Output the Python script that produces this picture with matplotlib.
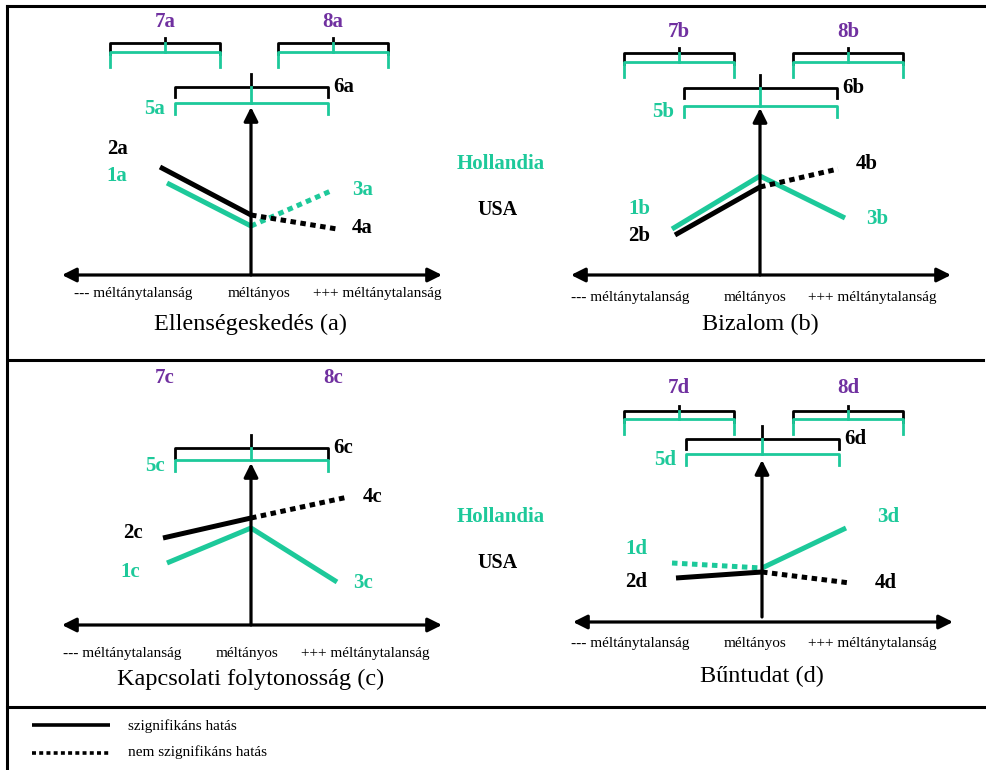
import matplotlib
matplotlib.use('Agg')
import matplotlib.pyplot as plt

plt.rcParams['font.family'] = ['Liberation Serif', 'DejaVu Serif']

GREEN = '#1dc99a'
PURPLE = '#7030a0'
BLACK = '#000000'

# ---- data (heights above the horizontal axis) ----
panels = ['a', 'b', 'c', 'd']
titles = ['Ellenségeskedés (a)', 'Bizalom (b)',
          'Kapcsolati folytonosság (c)', 'Bűntudat (d)']
tick_labels = ['--- méltánytalanság', 'méltányos', '+++ méltánytalanság']
countries = ['Hollandia', 'USA']

# Hollandia (green)
nl_left = [92, 46, 62, 59]
nl_mid = [49, 99, 97, 54]
nl_right = [85, 57, 43, 94]
nl_x_left = [-84, -88, -84, -90]
nl_x_right = [82, 85, 86, 84]
nl_left_sig = [True, True, True, False]
nl_right_sig = [False, True, True, True]

# USA (black)
us_left = [108, 40, 87, 44]
us_mid = [60, 88, 107, 50]
us_right = [46, 106, 128, 39]
us_x_left = [-91, -85, -88, -86]
us_x_right = [86, 78, 97, 88]
us_left_sig = [True, True, True, True]
us_right_sig = [False, False, False, False]

# ---- layout (pixels) ----
origins = [(251, 275), (760, 275), (251, 625), (762, 622)]
vaxis_top = [168, 167, 162, 162]
vaxis_bottom = [0, 0, 0, 5]
inner_black_y = [188, 187, 177, 183]
inner_green_y = [172, 169, 165, 168]
outer_black_y = [232, 222, None, 211]
outer_green_y = [223, 213, None, 203]
outer_centres = [(-86, 82), (-81, 88), (-86, 82), (-83, 86)]
outer_label_y = [253, 243, 247, 234]
tick_y = [-18, -22, -28, -21]
tick_x = [(-118, 8, 126), (-130, -5, 112), (-129, -4, 114), (-132, -7, 110)]
title_y = [-49, -49, -54, -54]
# series label positions: 1 (nl left), 2 (us left), 3 (nl right), 4 (us right)
lab_pos = [
    [(-134, 99), (-134, 126), (112, 85), (111, 47)],
    [(-121, 66), (-121, 39), (117, 56), (107, 111)],
    [(-121, 53), (-118, 92), (112, 42), (122, 128)],
    [(-126, 73), (-126, 40), (126, 105), (124, 39)],
]

fig = plt.figure(figsize=(9.87, 7.70), dpi=100)
ax = fig.add_axes([0, 0, 1, 1])
ax.set_xlim(0, 987)
ax.set_ylim(770, 0)
ax.axis('off')

DOT = (0, (1.1, 0.9))


def seg(ox, oy, x0, y0, x1, y1, color, sig, lw=3.6):
    ax.plot([ox + x0, ox + x1], [oy - y0, oy - y1], color=color, lw=lw,
            ls='-' if sig else DOT, solid_capstyle='butt',
            dash_capstyle='butt', zorder=2)


def bracket(ox, oy, xl, xr, xc, y, leg, tick, color, lw=2.0):
    ax.plot([ox + xl, ox + xl, ox + xr, ox + xr],
            [oy - y + leg, oy - y, oy - y, oy - y + leg],
            color=color, lw=lw, solid_joinstyle='round', zorder=4)
    ax.plot([ox + xc, ox + xc], [oy - y, oy - y - tick], color=color,
            lw=lw, zorder=4)


def arrow(x0, y0, x1, y1, style):
    ax.annotate('', xy=(x1, y1), xytext=(x0, y0),
                arrowprops=dict(arrowstyle=style, lw=2.3, color=BLACK,
                                mutation_scale=21, shrinkA=0, shrinkB=0),
                zorder=3)


for i, p in enumerate(panels):
    ox, oy = origins[i]
    # axes
    arrow(ox - 189, oy, ox + 191, oy, '<|-|>')
    arrow(ox, oy - vaxis_bottom[i], ox, oy - vaxis_top[i], '-|>')
    for tx, lab in zip(tick_x[i], tick_labels):
        ax.text(ox + tx, oy - tick_y[i], lab, fontsize=11, ha='center',
                va='center')
    ax.text(ox, oy - title_y[i], titles[i], fontsize=17.5, ha='center',
            va='center')

    # lines
    seg(ox, oy, nl_x_left[i], nl_left[i], 0, nl_mid[i], GREEN, nl_left_sig[i])
    seg(ox, oy, 0, nl_mid[i], nl_x_right[i], nl_right[i], GREEN, nl_right_sig[i])
    seg(ox, oy, us_x_left[i], us_left[i], 0, us_mid[i], BLACK, us_left_sig[i])
    seg(ox, oy, 0, us_mid[i], us_x_right[i], us_right[i], BLACK, us_right_sig[i])

    cols = [GREEN, BLACK, GREEN, BLACK]
    for k, (lx, ly) in enumerate(lab_pos[i]):
        ax.text(ox + lx, oy - ly, f'{k + 1}{p}', color=cols[k], fontsize=15,
                fontweight='bold', ha='center', va='center')

    # centre brackets (5, 6)
    bracket(ox, oy, -76, 77, 0, inner_black_y[i], 10, 13, BLACK)
    bracket(ox, oy, -76, 77, 0, inner_green_y[i], 11, inner_black_y[i] - inner_green_y[i], GREEN)
    ax.text(ox + 82, oy - inner_black_y[i], f'6{p}', fontsize=15,
            fontweight='bold', ha='left', va='center')
    ax.text(ox - 86, oy - inner_green_y[i] + 6, f'5{p}', color=GREEN,
            fontsize=15, fontweight='bold', ha='right', va='center')

    # outer brackets (7, 8)
    for j, xc in enumerate(outer_centres[i]):
        if outer_black_y[i] is not None:
            bracket(ox, oy, xc - 55, xc + 55, xc, outer_black_y[i], 11, 5, BLACK)
            bracket(ox, oy, xc - 55, xc + 55, xc, outer_green_y[i], 15,
                    outer_black_y[i] - outer_green_y[i], GREEN)
        ax.text(ox + xc, oy - outer_label_y[i], f'{7 + j}{p}', color=PURPLE,
                fontsize=15, fontweight='bold', ha='center', va='center')

# country labels
for y0 in (0, 353):
    ax.text(501, 164 + y0, countries[0], color=GREEN, fontsize=15,
            fontweight='bold', ha='center', va='center')
    ax.text(498, 210 + y0, countries[1], color=BLACK, fontsize=14.5,
            fontweight='bold', ha='center', va='center')

# frame
ax.plot([7, 7], [6, 770], color=BLACK, lw=2.2)
ax.plot([7, 984], [6, 6], color=BLACK, lw=2.2)
ax.plot([8, 983], [360, 360], color=BLACK, lw=2.2)
ax.plot([7, 984], [707, 707], color=BLACK, lw=2.2)

# legend
ax.plot([32, 110], [725, 725], color=BLACK, lw=2.6, solid_capstyle='butt')
ax.plot([32, 110], [753, 753], color=BLACK, lw=2.6, ls=DOT,
        dash_capstyle='butt')
ax.text(128, 726, 'szignifikáns hatás', fontsize=11, va='center')
ax.text(128, 752, 'nem szignifikáns hatás', fontsize=11, va='center')

fig.savefig('out.png', dpi=100)
